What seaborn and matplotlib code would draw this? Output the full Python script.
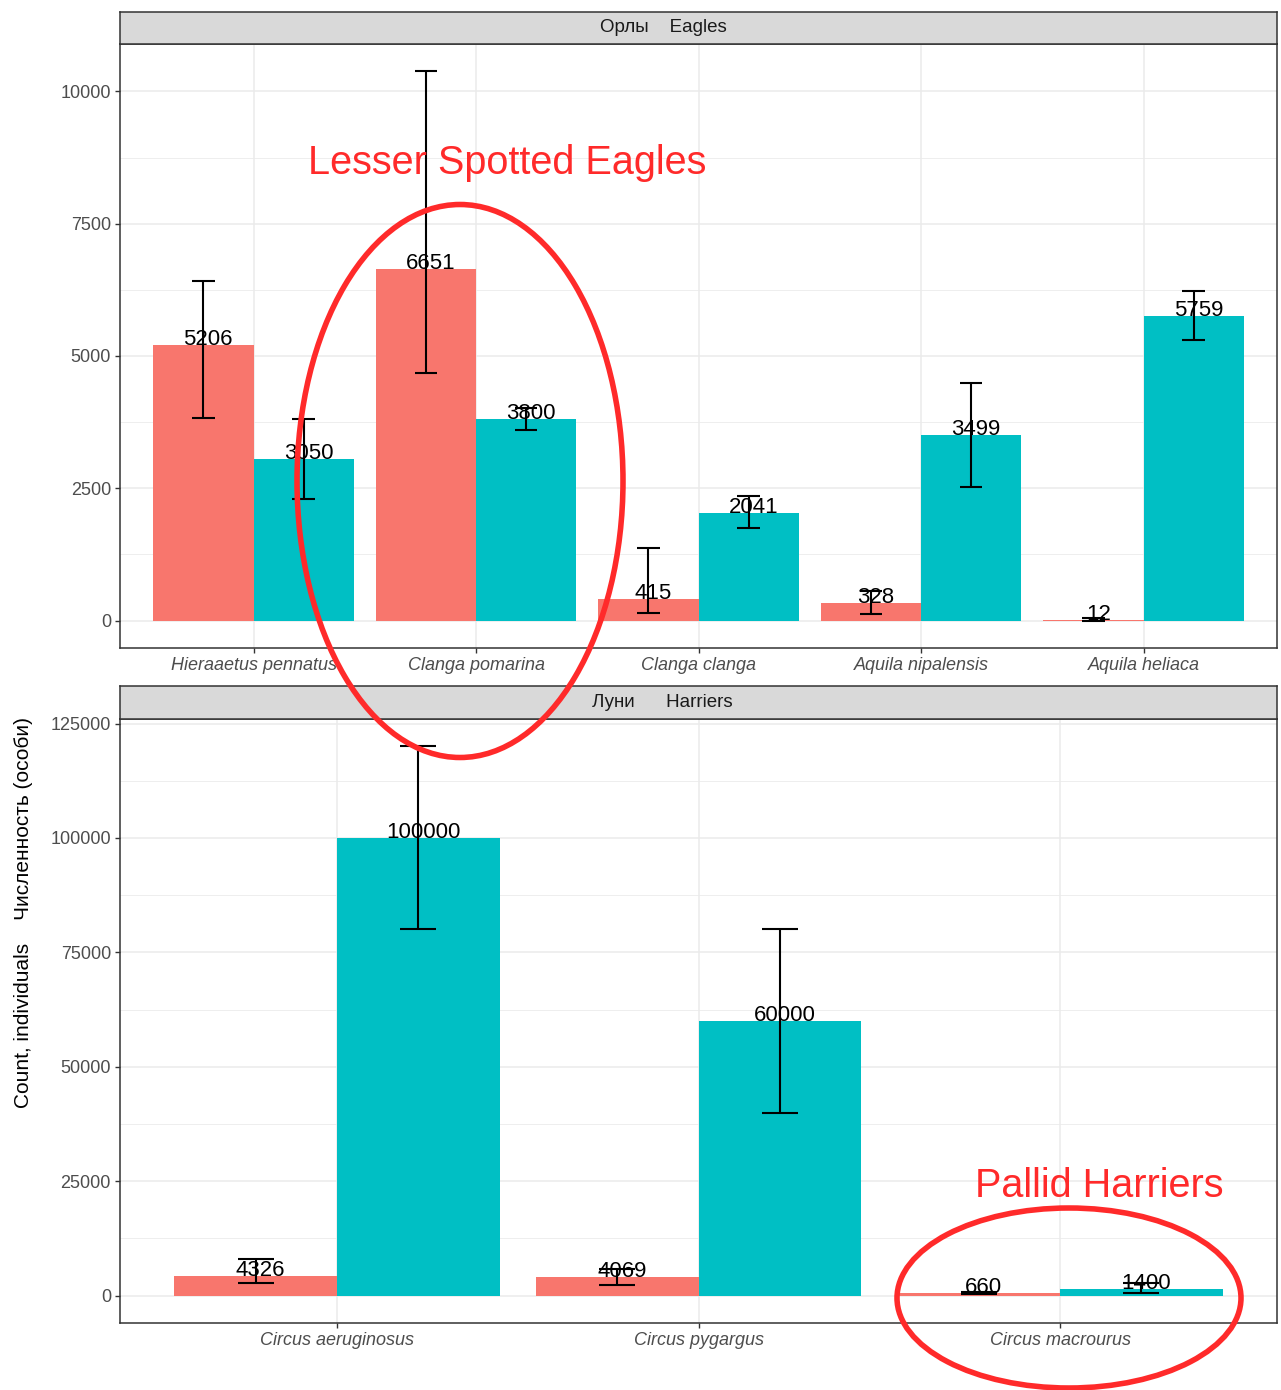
import numpy as np
import pandas as pd
import matplotlib
matplotlib.use("Agg")
import matplotlib.pyplot as plt
import seaborn as sns
from matplotlib.patches import Ellipse
from matplotlib.ticker import FixedLocator, MultipleLocator

# ---------------- data ----------------
groups = ["group 1", "group 2"]
palette = ["#F8766D", "#00BFC4"]

eagle_species = ["Hieraaetus pennatus", "Clanga pomarina", "Clanga clanga",
                 "Aquila nipalensis", "Aquila heliaca"]
eagle_g1 = [5206, 6651, 415, 328, 12]
eagle_g1_lo = [3830, 4680, 150, 130, 0]
eagle_g1_hi = [6415, 10377, 1377, 566, 40]
eagle_g2 = [3050, 3800, 2041, 3499, 5759]
eagle_g2_lo = [2300, 3600, 1755, 2528, 5300]
eagle_g2_hi = [3811, 4019, 2358, 4491, 6226]
eagle_yticks = [0, 2500, 5000, 7500, 10000]

harrier_species = ["Circus aeruginosus", "Circus pygargus", "Circus macrourus"]
harrier_g1 = [4326, 4069, 660]
harrier_g1_lo = [2780, 2400, 440]
harrier_g1_hi = [7880, 5900, 800]
harrier_g2 = [100000, 60000, 1400]
harrier_g2_lo = [80000, 40000, 450]
harrier_g2_hi = [120000, 80000, 2850]
harrier_yticks = [0, 25000, 50000, 75000, 100000, 125000]

eagle_strip = "Орлы    Eagles"
harrier_strip = "Луни      Harriers"
ylabel = "Count, individuals    Численность (особи)"
note1 = "Lesser Spotted Eagles"
note2 = "Pallid Harriers"

# ---------------- style ----------------
sns.set_theme(style="white")
plt.rcParams['font.family'] = ['Liberation Sans', 'DejaVu Sans']

W, H = 1281, 1390
fig = plt.figure(figsize=(W / 100, H / 100), dpi=100)


def fx(px):
    return px / W


def fy(py):
    return 1 - py / H


GRID = "#EBEBEB"
DARK = "#333333"
TXT = "#4D4D4D"

panels = [
    dict(species=eagle_species, vals=(eagle_g1, eagle_g2),
         lo=(eagle_g1_lo, eagle_g2_lo), hi=(eagle_g1_hi, eagle_g2_hi),
         yticks=eagle_yticks, strip=eagle_strip,
         top=44, bottom=648, strip_top=12, strip_x=600),
    dict(species=harrier_species, vals=(harrier_g1, harrier_g2),
         lo=(harrier_g1_lo, harrier_g2_lo), hi=(harrier_g1_hi, harrier_g2_hi),
         yticks=harrier_yticks, strip=harrier_strip,
         top=719, bottom=1323, strip_top=686, strip_x=592),
]

left_px, right_px = 120, 1277

for p in panels:
    ax = fig.add_axes([fx(left_px), fy(p["bottom"]),
                       fx(right_px - left_px), (p["bottom"] - p["top"]) / H])
    n = len(p["species"])
    df = pd.DataFrame({
        "species": p["species"] * 2,
        "count": list(p["vals"][0]) + list(p["vals"][1]),
        "group": [groups[0]] * n + [groups[1]] * n,
    })
    sns.barplot(data=df, x="species", y="count", hue="group",
                order=p["species"], hue_order=groups, palette=palette,
                width=0.9, errorbar=None, saturation=1, linewidth=0,
                legend=False, ax=ax, zorder=2)

    for j, cont in enumerate(ax.containers):
        for i, bar in enumerate(cont):
            xc = bar.get_x() + bar.get_width() / 2
            lo = p["lo"][j][i]
            hi = p["hi"][j][i]
            v = p["vals"][j][i]
            ax.vlines(xc, lo, hi, color="black", lw=1.5, zorder=4)
            ax.hlines([lo, hi], xc - 0.05, xc + 0.05, color="black", lw=1.5, zorder=4)
            ax.annotate(str(v), (xc, v), xytext=(3.5, 0), textcoords="offset points",
                        ha="center", va="baseline", fontsize=16, color="black",
                        zorder=5)

    ymax = max(max(p["hi"][0]), max(p["hi"][1]))
    pad = 0.05 * ymax
    ax.set_ylim(-pad, ymax + pad)
    ax.set_xlim(-0.6, n - 0.4)
    ax.yaxis.set_major_locator(FixedLocator(p["yticks"]))
    step = p["yticks"][1] - p["yticks"][0]
    ax.yaxis.set_minor_locator(MultipleLocator(step / 2))
    ax.set_yticklabels([str(t) for t in p["yticks"]])
    ax.set_axisbelow(True)
    ax.grid(True, which="major", color=GRID, lw=1.1, zorder=0)
    ax.grid(True, which="minor", axis="y", color=GRID, lw=0.6, zorder=0)
    ax.set_xlabel("")
    ax.set_ylabel("")
    ax.tick_params(which="major", length=3.5, width=1.0, color=DARK,
                   labelsize=13, labelcolor=TXT, pad=3,
                   bottom=True, left=True, direction="out")
    ax.tick_params(which="minor", length=0)
    for lab in ax.get_xticklabels():
        lab.set_fontstyle("italic")
    for s in ax.spines.values():
        s.set_color(DARK)
        s.set_linewidth(1.1)
        s.set_visible(True)
    ax.set_facecolor("white")

    # facet strip
    sax = fig.add_axes([fx(left_px), fy(p["top"]),
                        fx(right_px - left_px), (p["top"] - p["strip_top"]) / H])
    sax.set_facecolor("#D9D9D9")
    sax.set_xticks([])
    sax.set_yticks([])
    for s in sax.spines.values():
        s.set_color(DARK)
        s.set_linewidth(1.1)
    sax.text((p["strip_x"] - left_px) / (right_px - left_px), 0.5, p["strip"],
             ha="left", va="center", fontsize=13.5, color="#1A1A1A",
             transform=sax.transAxes)

fig.text(fx(24), fy(912), ylabel, rotation=90, ha="center", va="center",
         fontsize=15, color="black")

# hand-drawn style annotations
RED = "#FF2A2A"
hand = ['Liberation Sans', 'DejaVu Sans']
fig.text(fx(308), fy(174), note1, ha="left", va="baseline", fontsize=28.5,
         color=RED, family=hand, zorder=10)
fig.text(fx(975), fy(1197), note2, ha="left", va="baseline", fontsize=28.5,
         color=RED, family=hand, zorder=10)
fig.patches.append(Ellipse((fx(460), fy(481)), fx(326), 553 / H, fill=False,
                           ec=RED, lw=4, transform=fig.transFigure, zorder=10))
fig.patches.append(Ellipse((fx(1069), fy(1298)), fx(344), 180 / H, fill=False,
                           ec=RED, lw=4, transform=fig.transFigure, zorder=10))

fig.savefig("out.png", dpi=100, facecolor="white")
